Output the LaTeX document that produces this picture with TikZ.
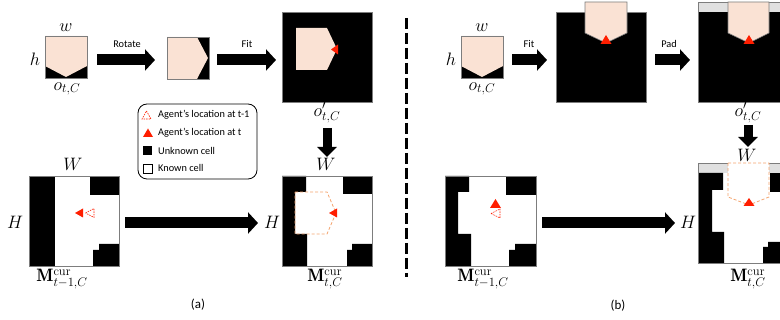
\RequirePackage{fix-cm}
\documentclass[tikz,border=0pt]{standalone}
\usepackage{fontspec}
\setsansfont{Carlito}
\usetikzlibrary{arrows.meta}
\definecolor{peach}{RGB}{250,226,212}
\definecolor{agentred}{RGB}{255,30,0}
\definecolor{pentorange}{RGB}{244,164,110}
\definecolor{padgray}{RGB}{224,224,224}
\definecolor{rimgray}{RGB}{125,125,125}
\begin{document}
\begin{tikzpicture}[x=1pt,y=-1pt,
  frame/.style={draw=rimgray,line width=0.8pt,inner sep=0pt,outer sep=0pt},
  mathlbl/.style={font=\fontsize{18}{20}\selectfont,inner sep=0pt},
  steplbl/.style={font=\sffamily\fontsize{10.3}{12}\selectfont,inner sep=0pt},
  legtext/.style={font=\sffamily\fontsize{10.3}{12}\selectfont,inner sep=0pt,anchor=west},
  panellbl/.style={font=\sffamily\fontsize{13}{15}\selectfont,inner sep=0pt},
  bigarrow/.style={line width=11pt,-{Triangle[length=10pt,width=21pt]}},
  downarrow/.style={line width=9pt,-{Triangle[length=10pt,width=19pt]}},
  obsfill/.style={fill=peach},
  agent/.style={fill=agentred},
  agentprev/.style={draw=agentred,line width=0.6pt,dash pattern=on 1.5pt off 1pt},
  fov/.style={draw=pentorange,line width=0.8pt,dash pattern=on 3pt off 2pt}
]
\clip (0,0) rectangle (780,320);

% ================= (a) top row =================
\fill (45,36) rectangle (87,78);
\fill[obsfill] (45,36) -- (87,36) -- (87,66) -- (66,77) -- (45,66) -- cycle;
\node[frame,minimum width=42pt,minimum height=42pt] (oa) at (66,57) {};
\node[mathlbl] (wa) at (66,28) {$w$};
\node[mathlbl] (ha) at (35,59) {$h$};
\node[mathlbl] (ola) at (67,89) {$o_{t,C}$};

\fill (167,37) rectangle (209,79);
\fill[obsfill] (167,37) -- (197,37) -- (208,58) -- (197,79) -- (167,79) -- cycle;
\node[frame,minimum width=42pt,minimum height=42pt] (rot) at (188,58) {};

\fill (282,12) rectangle (372,102);
\fill[obsfill] (296,28) -- (327,28) -- (337,49) -- (327,70) -- (296,70) -- cycle;
\fill[agent] (331,49.5) -- (338,44.5) -- (338,54.5) -- cycle;
\node[frame,minimum size=90pt] (fita) at (327,57) {};
\node[mathlbl] (opa) at (327,113) {$o'_{t,C}$};

\draw[bigarrow,shorten <=10pt,shorten >=12pt] ([yshift=-3pt]oa.east) -- ([yshift=-3pt]oa.east -| rot.west);
\node[steplbl] (rotlbl) at (127,44) {Rotate};
\draw[bigarrow,shorten <=8pt,shorten >=6pt] ([yshift=-2pt]rot.east) -- ([yshift=-2pt]rot.east -| fita.west);
\node[steplbl] (fitlbla) at (247,44) {Fit};

% legend
\node[draw=black,line width=0.8pt,rounded corners=9pt,minimum width=119pt,minimum height=75pt,inner sep=0pt] (legend) at (197.5,141.5) {};
\draw[agentprev] (146.5,111) -- (151,119) -- (142,119) -- cycle;
\node[legtext] (l1) at (158,115) {Agent’s location at t-1};
\fill[agent] (148,128.5) -- (153,137) -- (143,137) -- cycle;
\node[legtext] (l2) at (158,133) {Agent’s location at t};
\fill (143,146) rectangle (152,155);
\node[legtext] (l3) at (158,150.5) {Unknown cell};
\draw[line width=0.8pt] (143,164) rectangle (152,173);
\node[legtext] (l4) at (158,168) {Known cell};

% ================= (a) bottom row =================
\fill[white] (29,176) rectangle (119,266);
\fill (29,176) rectangle (55,266);
\fill (90,176) rectangle (119,195);
\fill (99,244) -- (119,244) -- (119,266) -- (93,266) -- (93,250) -- (99,250) -- cycle;
\fill[agent] (75,213) -- (83,208.5) -- (83,217.5) -- cycle;
\draw[agentprev] (85.5,213) -- (94,208.5) -- (94,217.5) -- cycle;
\node[frame,minimum size=90pt] (mapa1) at (74,221) {};
\node[mathlbl] (Wa1) at (73,164) {$W$};
\node[mathlbl] (Ha1) at (15,222) {$H$};
\node[mathlbl] (Ma1) at (62,279) {$\mathbf{M}^{\mathrm{cur}}_{t-1,C}$};

\fill (282,176) -- (306,176) -- (306,192) -- (295,192) -- (295,234) -- (307,234) -- (307,266) -- (282,266) -- cycle;
\fill (343,176) rectangle (372,194);
\fill (352,244) -- (372,244) -- (372,266) -- (347,266) -- (347,250) -- (352,250) -- cycle;
\draw[fov] (295,192) -- (327,192) -- (336,213) -- (327,234) -- (295,234) -- cycle;
\fill[agent] (329,213) -- (337,208.5) -- (337,217.5) -- cycle;
\node[frame,minimum size=90pt] (mapa2) at (327,221) {};
\node[mathlbl] (Wa2) at (326,164) {$W$};
\node[mathlbl] (Ha2) at (272,222) {$H$};
\node[mathlbl] (Ma2) at (325,279) {$\mathbf{M}^{\mathrm{cur}}_{t,C}$};

\draw[bigarrow,shorten <=6pt,shorten >=24pt] ([yshift=-2pt]mapa1.east) -- ([yshift=-2pt]mapa1.east -| mapa2.west);
\draw[downarrow,shorten <=26pt,shorten >=19pt] (fita.south) -- (mapa2.north);
\node[panellbl] (pa) at (198,305) {(a)};

% divider
\coordinate (divtop) at (406,18);
\coordinate (divbot) at (406,277);
\draw[line width=3pt,dash pattern=on 11pt off 4pt] (divtop) -- (divbot);

% ================= (b) top row =================
\fill (461,36) rectangle (503,78);
\fill[obsfill] (461,36) -- (503,36) -- (503,66) -- (482,77) -- (461,66) -- cycle;
\node[frame,minimum width=42pt,minimum height=42pt] (ob) at (482,57) {};
\node[mathlbl] (wb) at (482,28) {$w$};
\node[mathlbl] (hb) at (451,59) {$h$};
\node[mathlbl] (olb) at (482,89) {$o_{t,C}$};

\fill (556,12) rectangle (646,102);
\node[frame,minimum size=90pt] (fitb) at (601,57) {};
\filldraw[obsfill,draw=rimgray,line width=0.6pt] (585,2) -- (627,2) -- (627,33) -- (606,43) -- (585,33) -- cycle;
\fill[agent] (606,35) -- (611.5,44) -- (600.5,44) -- cycle;

\fill[padgray] (698,2) rectangle (798,12);
\fill (698,12) rectangle (798,102);
\node[frame,minimum size=100pt] (padb) at (748,52) {};
\filldraw[obsfill,draw=rimgray,line width=0.6pt] (728,2) -- (769,2) -- (769,33) -- (749,43) -- (728,33) -- cycle;
\fill[agent] (749,35) -- (754.5,44) -- (743.5,44) -- cycle;
\node[mathlbl] (opb) at (748,113) {$o'_{t,C}$};

\draw[bigarrow,shorten <=9pt,shorten >=9pt] ([yshift=-3pt]ob.east) -- ([yshift=-3pt]ob.east -| fitb.west);
\node[steplbl] (fitlblb) at (529,44) {Fit};
\draw[bigarrow,shorten <=9pt,shorten >=8pt] ([yshift=-3pt]fitb.east) -- ([yshift=-3pt]fitb.east -| padb.west);
\node[steplbl] (padlbl) at (669,44) {Pad};

% ================= (b) bottom row =================
\fill[white] (445,176) rectangle (536,266);
\fill (445,176) -- (469,176) -- (469,192) -- (458,192) -- (458,234) -- (471,234) -- (471,266) -- (445,266) -- cycle;
\fill (506,176) rectangle (536,195);
\fill (515,244) -- (536,244) -- (536,266) -- (509,266) -- (509,250) -- (515,250) -- cycle;
\fill[agent] (495.5,199) -- (501,208) -- (490,208) -- cycle;
\draw[agentprev] (491,213.5) -- (500,209) -- (500,218) -- cycle;
\node[frame,minimum width=91pt,minimum height=90pt] (mapb1) at (490.5,221) {};
\node[mathlbl] (Mb1) at (483,279) {$\mathbf{M}^{\mathrm{cur}}_{t-1,C}$};

\fill[white] (698,163) rectangle (798,263);
\fill[padgray] (698,163) rectangle (798,173);
\fill (698,173) -- (723,173) -- (723,190) -- (712,190) -- (712,232) -- (724,232) -- (724,263) -- (698,263) -- cycle;
\fill (770,173) rectangle (798,192);
\fill (768,242) -- (798,242) -- (798,263) -- (763,263) -- (763,247) -- (768,247) -- cycle;
\node[frame,minimum size=100pt] (mapb2) at (748,213) {};
\filldraw[fill=white,fov] (728,163) -- (769,163) -- (769,197) -- (749,205) -- (728,197) -- cycle;
\fill[agent] (749,198) -- (754.5,206) -- (743.5,206) -- cycle;
\node[mathlbl] (Wb2) at (747,155) {$W$};
\node[mathlbl] (Hb2) at (688,222) {$H$};
\node[mathlbl] (Mb2) at (748,279) {$\mathbf{M}^{\mathrm{cur}}_{t,C}$};

\draw[bigarrow,shorten <=6pt,shorten >=23pt] ([yshift=-2pt]mapb1.east) -- ([yshift=-2pt]mapb1.east -| mapb2.west);
\draw[downarrow,shorten <=23pt,shorten >=16pt] (padb.south) -- (mapb2.north);
\node[panellbl] (pb) at (618,306) {(b)};
\end{tikzpicture}
\end{document}
